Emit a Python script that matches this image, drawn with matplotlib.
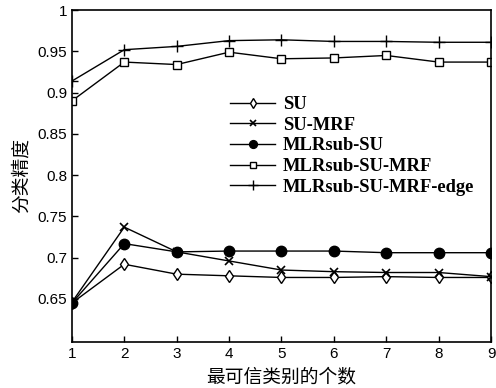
import numpy as np
import matplotlib
matplotlib.use('Agg')
import matplotlib.pyplot as plt

# --------datos-----------------------------
k = [1, 2, 3, 4, 5, 6, 7, 8, 9]
su = [0.645, 0.692, 0.680, 0.678, 0.676, 0.676, 0.677, 0.676, 0.676]
su_mrf = [0.646, 0.737, 0.707, 0.696, 0.685, 0.683, 0.682, 0.682, 0.677]
mlr_su = [0.645, 0.717, 0.707, 0.708, 0.708, 0.708, 0.706, 0.706, 0.706]
mlr_su_mrf = [0.890, 0.937, 0.934, 0.949, 0.941, 0.942, 0.945, 0.937, 0.937]
mlr_su_mrf_edge = [0.914, 0.952, 0.956, 0.963, 0.964, 0.962, 0.962, 0.961, 0.961]

names = ['SU', 'SU-MRF', 'MLRsub-SU', 'MLRsub-SU-MRF', 'MLRsub-SU-MRF-edge']
yticks = [0.65, 0.7, 0.75, 0.8, 0.85, 0.9, 0.95, 1]

cjk = ['Noto Sans CJK SC', 'DejaVu Sans']

fig = plt.figure(figsize=(4.96, 3.88), dpi=100)
ax = fig.add_axes([0.145, 0.119, 0.845, 0.855])

ax.plot(k, su, 'k-', marker='d', mfc='white', mec='k', ms=6.5, lw=1, mew=1)
ax.plot(k, su_mrf, 'k-', marker='x', ms=6, lw=1, mew=1.2)
ax.plot(k, mlr_su, 'k-', marker='o', mfc='k', ms=7.5, lw=1)
ax.plot(k, mlr_su_mrf, 'k-', marker='s', mfc='white', mec='k', ms=6, lw=1, mew=1)
ax.plot(k, mlr_su_mrf_edge, 'k-', marker='+', ms=9, lw=1, mew=1)

ax.set_xlim(1, 9)
ax.set_ylim(0.598, 1)
ax.set_xticks(k)
ax.set_yticks(yticks)
ax.set_yticklabels(['0.65', '0.7', '0.75', '0.8', '0.85', '0.9', '0.95', '1'])
ax.tick_params(direction='in', length=4, width=1, labelsize=11,
               top=False, right=False)
for lab in ax.get_xticklabels() + ax.get_yticklabels():
    lab.set_family('Liberation Sans')
for s in ax.spines.values():
    s.set_linewidth(1.2)

ax.set_xlabel('最可信类别的个数', family=cjk, fontsize=13.5, labelpad=4)
ax.set_ylabel('分类精度', family=cjk, fontsize=13.5, labelpad=4)

leg = ax.legend(names, loc='upper left', bbox_to_anchor=(0.377, 0.741),
                frameon=False, borderpad=0, borderaxespad=0,
                handlelength=2.45, handletextpad=0.42, labelspacing=0.2,
                markerscale=0.75,
                prop={'family': 'Liberation Serif', 'weight': 'bold', 'size': 13.3})

fig.savefig('out.png', dpi=100)
